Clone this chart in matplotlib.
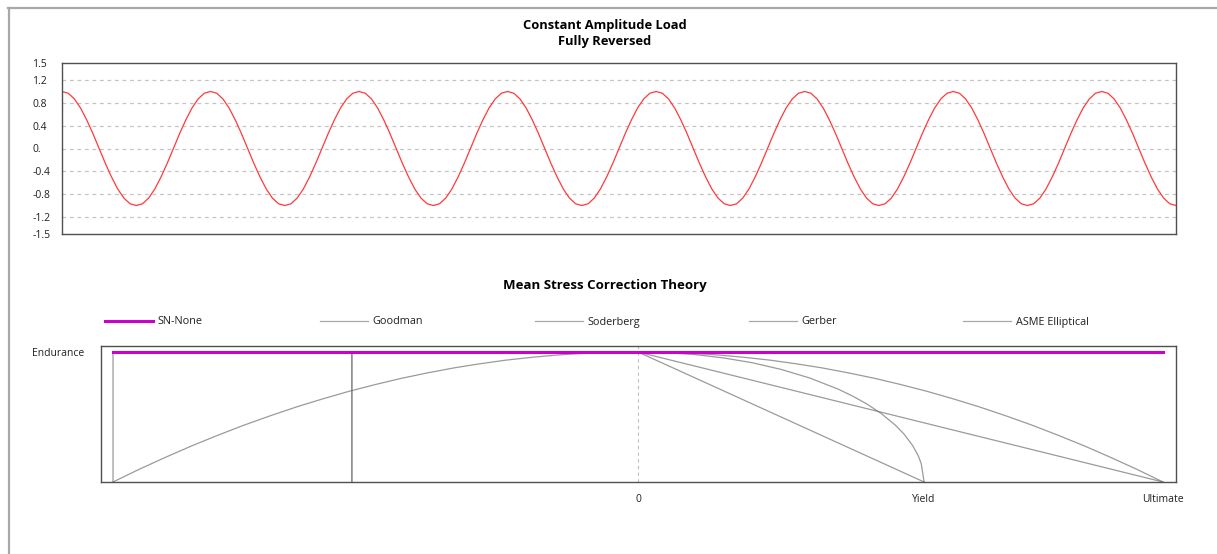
import numpy as np
import matplotlib.pyplot as plt
from matplotlib.lines import Line2D

plt.rcParams['font.family'] = ['Open Sans', 'DejaVu Sans']

### Load history: one cycle, repeated 7.5 times
cycle = [1.0, 0.97, 0.87, 0.71, 0.5, 0.26, 0.0, -0.26, -0.5, -0.71, -0.87, -0.97,
         -1.0, -0.97, -0.87, -0.71, -0.5, -0.26, 0.0, 0.26, 0.5, 0.71, 0.87, 0.97]
n_cycles = 7
load = cycle * n_cycles + cycle[:13]
load_ticks = [1.5, 1.2, 0.8, 0.4, 0.0, -0.4, -0.8, -1.2, -1.5]
load_ticklabels = ['1.5', '1.2', '0.8', '0.4', '0.', '-0.4', '-0.8', '-1.2', '-1.5']

### Mean stress diagram (Ultimate = 1, Endurance = 1)
ultimate = 1.0
yield_s = 0.545
endurance = 1.0

sn_x = [-1.0, 1.0]
sn_y = [1.0, 1.0]
goodman_x = [-1.0, -1.0, 0.0, 1.0]
goodman_y = [0.0, 1.0, 1.0, 0.0]
soderberg_x = [-0.545, -0.545, 0.0, 0.545]
soderberg_y = [0.0, 1.0, 1.0, 0.0]
# Gerber parabola, tension side (mirrored for compression), x as fraction of Ultimate
gerber_t = [0.0, 0.05, 0.1, 0.15, 0.2, 0.25, 0.3, 0.35, 0.4, 0.45, 0.5,
            0.55, 0.6, 0.65, 0.7, 0.75, 0.8, 0.85, 0.9, 0.95, 1.0]
gerber_a = [1.0, 0.998, 0.99, 0.978, 0.96, 0.938, 0.91, 0.878, 0.84, 0.798, 0.75,
            0.698, 0.64, 0.578, 0.51, 0.438, 0.36, 0.278, 0.19, 0.098, 0.0]
# ASME elliptical, x as fraction of Yield
asme_t = [0.0, 0.1, 0.2, 0.3, 0.4, 0.5, 0.6, 0.7, 0.75, 0.8, 0.85, 0.9,
          0.93, 0.96, 0.98, 0.99, 1.0]
asme_a = [1.0, 0.995, 0.98, 0.954, 0.917, 0.866, 0.8, 0.714, 0.661, 0.6, 0.527,
          0.436, 0.368, 0.28, 0.199, 0.141, 0.0]

theories = ['SN-None', 'Goodman', 'Soderberg', 'Gerber', 'ASME Elliptical']

W, H = 1217, 554
fig = plt.figure(figsize=(W / 100, H / 100), dpi=100)

# window frame
fig.add_artist(Line2D([8 / W, 1], [1 - 8 / H, 1 - 8 / H], color='#a8a8a8', lw=1.6))
fig.add_artist(Line2D([9 / W, 9 / W], [0, 1 - 8 / H], color='#a8a8a8', lw=1.6))

spine_c = '#505050'
grey = '#707070'

### Top: load history
ax1 = fig.add_axes([62 / W, 1 - 234 / H, (1176 - 62) / W, (234 - 63) / H])
ax1.plot(np.arange(len(load)), load, color='#ff3a3a', lw=0.9)
ax1.set_xlim(0, len(load) - 1)
ax1.set_ylim(-1.5, 1.5)
ax1.set_xticks([])
ax1.set_yticks(load_ticks)
ax1.set_yticklabels(load_ticklabels)
ax1.tick_params(axis='y', length=0, pad=21.5, labelsize=7.5, labelcolor='#202020')
for lab in ax1.get_yticklabels():
    lab.set_ha('left')
for v in load_ticks[1:-1]:
    ax1.axhline(v, color='#c4c4c4', lw=0.9, ls=(0, (3, 3)), zorder=0)
for s in ax1.spines.values():
    s.set_color(spine_c)
    s.set_linewidth(1.0)

fig.text(605 / W, 1 - 26 / H, 'Constant Amplitude Load', ha='center', va='center',
         fontsize=9.3, fontweight='bold')
fig.text(605 / W, 1 - 42 / H, 'Fully Reversed', ha='center', va='center',
         fontsize=9.3, fontweight='bold')

### Bottom: mean stress correction
ax2 = fig.add_axes([101 / W, 1 - 482 / H, (1176 - 101) / W, (482 - 346) / H])
ax2.axvline(0, color='#c0c0c0', lw=0.8, ls=(0, (3, 3)), zorder=0)

gerber_x = [-ultimate * t for t in gerber_t[::-1]] + [ultimate * t for t in gerber_t[1:]]
gerber_y = gerber_a[::-1] + gerber_a[1:]
asme_x = [-yield_s, -yield_s] + [yield_s * t for t in asme_t]
asme_y = [0.0, 1.0] + asme_a

for xs, ys in [(goodman_x, goodman_y), (soderberg_x, soderberg_y),
               (gerber_x, gerber_y), (asme_x, asme_y)]:
    ax2.plot(xs, ys, color=grey, lw=0.9, alpha=0.7)
ax2.plot(sn_x, sn_y, color='#cc00cc', lw=2.2, zorder=5)
ax2.set_xlim(-1.0229, 1.0248)
ax2.set_ylim(0, 1.046)
ax2.set_xticks([0, yield_s, ultimate])
ax2.set_xticklabels(['0', 'Yield', 'Ultimate'])
ax2.set_yticks([endurance])
ax2.set_yticklabels(['Endurance'])
ax2.tick_params(axis='x', length=0, pad=9, labelsize=7.5, labelcolor='#202020')
ax2.tick_params(axis='y', length=0, pad=12, labelsize=7.5, labelcolor='#202020')
for s in ax2.spines.values():
    s.set_color(spine_c)
    s.set_linewidth(1.0)

fig.text(605 / W, 1 - 286 / H, 'Mean Stress Correction Theory', ha='center', va='center',
         fontsize=9.5, fontweight='bold')

# legend row, evenly spaced entries
leg_x = [105, 320, 535, 749, 963]
for i, name in enumerate(theories):
    if i == 0:
        h = Line2D([], [], color='#cc00cc', lw=2.2)
    else:
        h = Line2D([], [], color='#a8a8a8', lw=0.9)
    leg = fig.legend([h], [name], loc='center left',
                     bbox_to_anchor=(leg_x[i] / W, 1 - 322 / H), frameon=False,
                     borderpad=0, borderaxespad=0, handlelength=4.4,
                     handletextpad=0.45, fontsize=7.8)
    for t in leg.get_texts():
        t.set_color('#202020')

fig.savefig('out.png', dpi=100, facecolor='white')
